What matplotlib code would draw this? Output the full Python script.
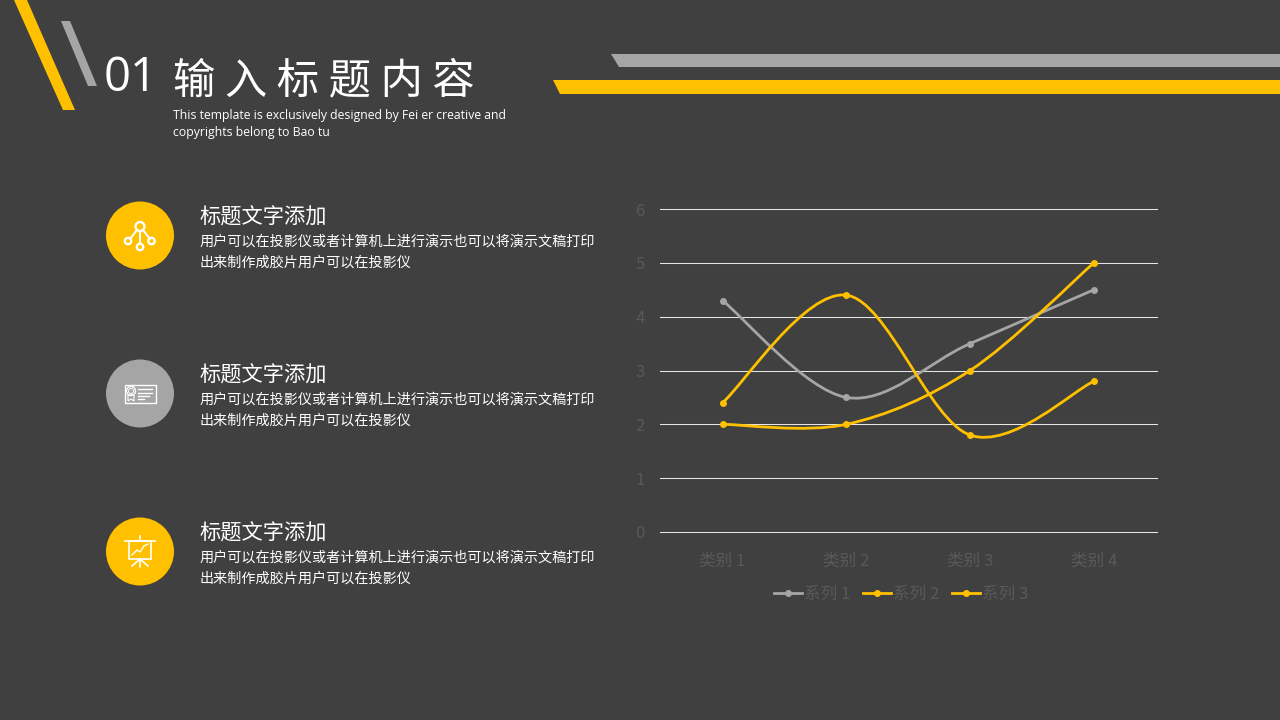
import matplotlib
matplotlib.use("Agg")
import numpy as np
import matplotlib.pyplot as plt
from matplotlib.path import Path
from matplotlib.patches import Circle, PathPatch, Polygon, Rectangle

plt.rcParams['font.family'] = ['Noto Sans CJK SC', 'DejaVu Sans']

# Chart data
categories = ["类别 1", "类别 2", "类别 3", "类别 4"]
series_names = ["系列 1", "系列 2", "系列 3"]
series_1 = [4.3, 2.5, 3.5, 4.5]
series_2 = [2.4, 4.4, 1.8, 2.8]
series_3 = [2.0, 2.0, 3.0, 5.0]
y_ticks = [0, 1, 2, 3, 4, 5, 6]

# Slide text
section_no = "01"
title = "输 入 标 题 内 容"
subtitle = ["This template is exclusively designed by Fei er creative and",
            "copyrights belong to Bao tu"]
item_heading = "标题文字添加"
item_lines = ["用户可以在投影仪或者计算机上进行演示也可以将演示文稿打印",
              "出来制作成胶片用户可以在投影仪"]

BG = "#404040"
YELLOW = "#FFC000"
GREY = "#A5A5A5"
MUTED = "#595959"
WHITE = "#FFFFFF"


def smooth_path(xs, ys):
    # office style smoothed line, bezier handles from the neighbouring points
    pts = np.column_stack([xs, ys])
    verts = [pts[0]]
    codes = [Path.MOVETO]
    n = len(pts)
    for i in range(n - 1):
        before = pts[max(i - 1, 0)]
        after = pts[min(i + 2, n - 1)]
        verts.append(pts[i] + (pts[i + 1] - before) / 6)
        verts.append(pts[i + 1] - (after - pts[i]) / 6)
        verts.append(pts[i + 1])
        codes += [Path.CURVE4] * 3
    return Path(verts, codes)


fig = plt.figure(figsize=(12.8, 7.2), dpi=100, facecolor=BG)

# full slide layer in pixel coordinates
bg = fig.add_axes([0, 0, 1, 1], zorder=0)
bg.set_xlim(0, 1280)
bg.set_ylim(720, 0)
bg.axis("off")

# header decoration
bg.add_patch(Polygon([(14, 0), (27, 0), (75, 110), (63, 110)], fc=YELLOW, ec="none"))
bg.add_patch(Polygon([(61, 21), (70, 21), (97, 86), (88, 86)], fc=GREY, ec="none"))
bg.add_patch(Polygon([(611, 54), (1280, 54), (1280, 67), (619, 67)], fc=GREY, ec="none"))
bg.add_patch(Polygon([(553, 80), (1280, 80), (1280, 94), (560, 94)], fc=YELLOW, ec="none"))

bg.text(104, 78, section_no, color=WHITE, fontsize=34, va="center", ha="left",
        family=["Open Sans", "DejaVu Sans"])
bg.text(173, 81, title, color=WHITE, fontsize=30.5, va="center", ha="left")
bg.text(173, 115.5, subtitle[0], color=WHITE, fontsize=8.85, va="center", ha="left",
        family=["Open Sans", "DejaVu Sans"])
bg.text(173, 132.5, subtitle[1], color=WHITE, fontsize=8.85, va="center", ha="left",
        family=["Open Sans", "DejaVu Sans"])

# left hand list
item_y = [236, 394, 552]
item_col = [YELLOW, GREY, YELLOW]
for y, col in zip(item_y, item_col):
    bg.add_patch(Circle((140, y - 0.5), 34, fc=col, ec="none"))
    bg.text(199.5, y - 18, item_heading, color=WHITE, fontsize=15.3, va="center", ha="left")
    bg.text(200, y + 6, item_lines[0], color=WHITE, fontsize=10.15, va="center", ha="left")
    bg.text(200, y + 27, item_lines[1], color=WHITE, fontsize=10.15, va="center", ha="left")

# icon 1, network
for cx, cy, r in [(140, 226.5, 4.5), (128, 241, 3.2), (140, 247, 3.2), (151.5, 241, 3.2)]:
    bg.add_patch(Circle((cx, cy), r, fc="none", ec=WHITE, lw=1.7))
for x0, y0, x1, y1 in [(137, 230, 130, 239), (140, 231, 140, 244), (143, 230, 150, 239)]:
    bg.plot([x0, x1], [y0, y1], color=WHITE, lw=1.5, solid_capstyle="round")

# icon 2, certificate
bg.add_patch(Rectangle((124.5, 384.5), 31, 18, fc="none", ec=WHITE, lw=1))
bg.add_patch(Circle((131, 391), 4.5, fc="none", ec=WHITE, lw=1))
bg.add_patch(Circle((131, 391), 2.5, fc="none", ec=WHITE, lw=0.7))
bg.add_patch(Polygon([(128, 395), (134, 395), (134, 401), (131, 399), (128, 401)],
                     fc="none", ec=WHITE, lw=0.8))
for x0, x1, y in [(138, 152, 389), (138, 152, 392.5), (138, 149, 395.5), (138, 144, 398.5)]:
    bg.plot([x0, x1], [y, y], color=WHITE, lw=1)

# icon 3, presentation board
bg.plot([125, 155], [540.5, 540.5], color=WHITE, lw=1.2)
bg.plot([140, 140], [536, 540], color=WHITE, lw=1.2)
bg.add_patch(Rectangle((129, 541), 22, 18, fc="none", ec=WHITE, lw=1.2))
bg.plot([132, 137, 140, 144, 148], [555, 550, 552, 546, 544], color=WHITE, lw=1)
bg.plot([140, 140], [559, 567], color=WHITE, lw=1.2)
bg.plot([132, 140, 148], [566, 559, 566], color=WHITE, lw=1.2)

# line chart, axes span matches the plot area of the slide
ax = fig.add_axes([660 / 1280, 1 - 532 / 720, 497 / 1280, 323 / 720], zorder=1)
ax.set_facecolor("none")
ax.set_xlim(0.495, 4.51)
ax.set_ylim(0, 6)
for side in ax.spines:
    ax.spines[side].set_visible(False)
ax.set_yticks(y_ticks)
ax.set_xticks(range(1, 5))
ax.set_xticklabels(categories)
ax.tick_params(axis="both", length=0, labelsize=12, labelcolor=MUTED)
ax.tick_params(axis="x", pad=15)
ax.tick_params(axis="y", pad=11)
ax.grid(axis="y", color="#E6E6E6", lw=0.75, clip_on=False)
ax.set_axisbelow(True)

x = [1, 2, 3, 4]
colors = [GREY, YELLOW, YELLOW]
for name, vals, col in zip(series_names, [series_1, series_2, series_3], colors):
    ax.add_patch(PathPatch(smooth_path(x, vals), fc="none", ec=col, lw=2, clip_on=False))
    ax.plot(x, vals, ls="none", marker="o", ms=4, color=col, clip_on=False)
    # legend handle only
    ax.plot([], [], color=col, lw=2, marker="o", ms=4, label=name)

leg = ax.legend(loc="upper center", bbox_to_anchor=(0.485, -0.12), ncol=3, frameon=False,
                fontsize=12, labelcolor=MUTED, handlelength=1.7, handletextpad=0.1,
                columnspacing=0.75)

fig.savefig("out.png", dpi=100, facecolor=BG)
